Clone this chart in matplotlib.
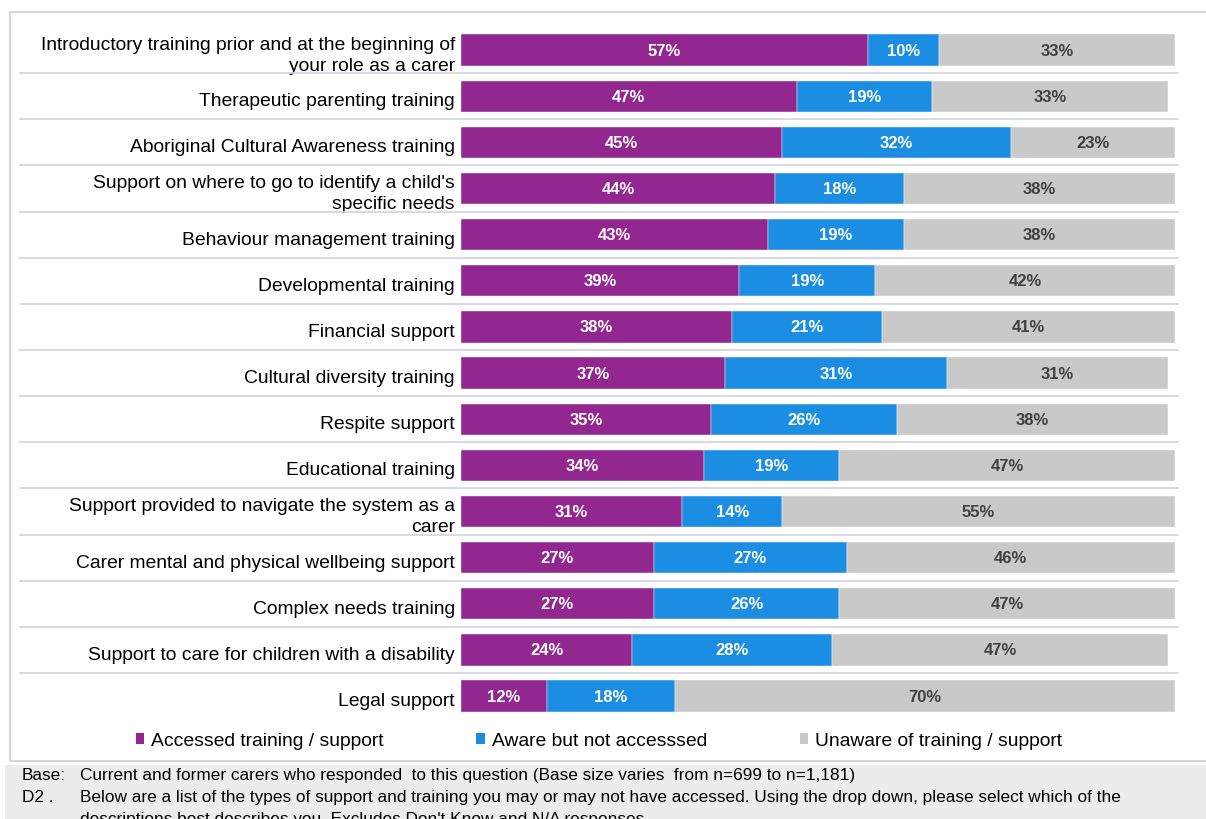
import matplotlib.pyplot as plt
import matplotlib.transforms as mtransforms
from matplotlib.patches import Rectangle, Patch
from matplotlib.lines import Line2D

plt.rcParams['font.family'] = ['Liberation Sans', 'DejaVu Sans']

# =========================
# DATA
# =========================

categories = [
    "Introductory training prior and at the beginning of\nyour role as a carer",
    "Therapeutic parenting training",
    "Aboriginal Cultural Awareness training",
    "Support on where to go to identify a child's\nspecific needs",
    "Behaviour management training",
    "Developmental training",
    "Financial support",
    "Cultural diversity training",
    "Respite support",
    "Educational training",
    "Support provided to navigate the system as a\ncarer",
    "Carer mental and physical wellbeing support",
    "Complex needs training",
    "Support to care for children with a disability",
    "Legal support",
]

accessed = [57, 47, 45, 44, 43, 39, 38, 37, 35, 34, 31, 27, 27, 24, 12]
aware = [10, 19, 32, 18, 19, 19, 21, 31, 26, 19, 14, 27, 26, 28, 18]
unaware = [33, 33, 23, 38, 38, 42, 41, 31, 38, 47, 55, 46, 47, 47, 70]

series_names = [
    "Accessed training / support",
    "Aware but not accesssed",
    "Unaware of training / support",
]

footer_lines = [
    ("Base:", "Current and former carers who responded  to this question "
              "(Base size varies  from n=699 to n=1,181)"),
    ("D2 .", "Below are a list of the types of support and training you may or "
             "may not have accessed. Using the drop down, please select which of the"),
    ("", "descriptions best describes you. Excludes Don't Know and N/A responses."),
]

# =========================
# STYLE
# =========================

colors = ["#92278F", "#1B8DE3", "#C9C9C9"]
text_colors = ["white", "white", "#404040"]

W, H = 1206, 820
fig = plt.figure(figsize=(W / 100, H / 100), dpi=100)

# outer frame around chart area
fig.add_artist(Rectangle(
    (10 / W, 1 - 762 / H), (1230 - 10) / W, (762 - 13) / H,
    transform=fig.transFigure, fill=False,
    edgecolor="#D6D6D6", linewidth=1.5, clip_on=False
))

# footer background
fig.add_artist(Rectangle(
    (5 / W, 0), 1, (820 - 766) / H,
    transform=fig.transFigure, facecolor="#ECECEC",
    edgecolor="none", clip_on=False
))

# bar axes
n = len(categories)
top_px, row_px = 28, 46.14
bottom_px = top_px + n * row_px
ax = fig.add_axes([
    461 / W, 1 - bottom_px / H,
    (1175 - 461) / W, (bottom_px - top_px) / H
])

rows = list(range(n))
left = [0] * n
for values, color, tcolor in zip(
    [accessed, aware, unaware], colors, text_colors
):
    ax.barh(
        rows, values, left=left, height=0.68,
        color=color, edgecolor="white", linewidth=0.3
    )
    for i, v in enumerate(values):
        ax.text(
            left[i] + v / 2, i, f"{v}%",
            ha="center", va="center",
            color=tcolor, fontsize=12, fontweight="bold"
        )
    left = [a + b for a, b in zip(left, values)]

ax.set_xlim(0, 100)
ax.set_ylim(n - 0.5, -0.5)
ax.axis("off")

# row separators and category labels
blend = mtransforms.blended_transform_factory(fig.transFigure, ax.transData)
for i in range(n - 1):
    fig.add_artist(Line2D(
        [20 / W, 1178 / W], [i + 0.5, i + 0.5],
        transform=blend, color="#D2D2DE", linewidth=1.2
    ))

for i, label in enumerate(categories):
    ax.text(
        455 / W, i + 0.1, label, transform=blend,
        ha="right", va="center", fontsize=13.9,
        color="black", linespacing=1.3
    )

# legend
handles = [Patch(facecolor=c, edgecolor="none") for c in colors]
fig.legend(
    handles, series_names,
    loc="center left", bbox_to_anchor=(128 / W, 1 - 742 / H),
    ncol=3, frameon=False, fontsize=13.9,
    handlelength=0.45, handleheight=0.45, handletextpad=0.35,
    columnspacing=4.8, borderaxespad=0
)

# footnotes
for k, (tag, line) in enumerate(footer_lines):
    y = 1 - (776 + 22 * k) / H
    fig.text(22 / W, y, tag, fontsize=12.4, va="center")
    fig.text(80 / W, y, line, fontsize=12.4, va="center")

fig.savefig("out.png", dpi=100)
